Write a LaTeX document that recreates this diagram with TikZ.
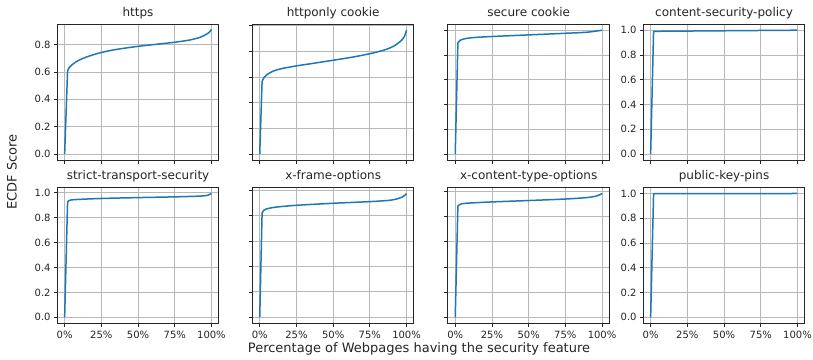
\documentclass[tikz,border=0pt]{standalone}
\usepackage{fontspec}
\setmainfont{DejaVu Sans}
\definecolor{mplblue}{HTML}{1F77B4}
\definecolor{gridgray}{HTML}{B8B8B8}
\definecolor{inkgray}{HTML}{262626}

\tikzset{
  gridline/.style={draw=gridgray, line width=0.85pt},
  tickmark/.style={draw=inkgray, line width=0.8pt},
  axisframe/.style={draw=inkgray, line width=0.85pt},
  ecdf/.style={draw=mplblue, line width=1.5pt, line join=round},
  xticklab/.style={anchor=north, inner sep=0pt, font=\fontsize{10}{12}\selectfont, text=inkgray},
  yticklab/.style={anchor=east, inner sep=0pt, font=\fontsize{10}{12}\selectfont, text=inkgray},
  paneltitle/.style={anchor=base, inner sep=0pt, font=\fontsize{12}{14}\selectfont, text=inkgray},
  axislabel/.style={inner sep=0pt, font=\fontsize{13}{15}\selectfont, text=inkgray},
}

% #1 id, #2 left, #3 top, #4 data maximum, #5 title,
% #6 y ticks (index/label), #7 y labels shown, #8 x labels shown, #9 curve points
\newcommand\drawpanel[9]{%
  \pgfmathsetmacro\pL{#2}%
  \pgfmathsetmacro\pT{#3}%
  \pgfmathsetmacro\pR{#2+161.5}%
  \pgfmathsetmacro\pB{#3+136.2}%
  \pgfmathsetmacro\sy{136.2/(1.1*#4)}%
  \pgfmathsetmacro\oy{\pB-0.05*#4*\sy}%
  \pgfmathsetmacro\sx{161.5/110}%
  \pgfmathsetmacro\ox{\pL+5*\sx}%
  \foreach \k in {0,...,4}{%
    \pgfmathsetmacro\gx{\ox+25*\k*\sx}%
    \pgfmathtruncatemacro\pc{25*\k}%
    \draw[gridline] (\gx,\pT) -- (\gx,\pB);
    \draw[tickmark] (\gx,\pB) -- ++(0,3.5);
    \ifnum#8=1 \node[xticklab] (xl-#1-\k) at (\gx,\pB+7.5) {\pc\%};\fi
  }%
  \foreach \k/\lab in {#6}{%
    \pgfmathsetmacro\gy{\oy-\k*0.2*\sy}%
    \draw[gridline] (\pL,\gy) -- (\pR,\gy);
    \draw[tickmark] (\pL,\gy) -- ++(-3.5,0);
    \ifnum#7=1 \node[yticklab] (yl-#1-\k) at (\pL-6.5,\gy) {\lab};\fi
  }%
  \begin{scope}[shift={(\ox,\oy)}, x=\sx pt, y={\sy pt}]
    \draw[ecdf] (0,0) -- plot[smooth, tension=0.5] coordinates {#9};
  \end{scope}
  \draw[axisframe] (\pL,\pT) rectangle (\pR,\pB);
  \node[paneltitle] (title-#1) at ({\pL+80.75},\pT-7.5) {#5};
}

\begin{document}
\begin{tikzpicture}[x=1pt, y=-1pt]
  \useasboundingbox[fill=white] (0,0) rectangle (813,359);

  % top row
  \drawpanel{a}{57.3}{24}{0.905}{https}
    {0/0.0,1/0.2,2/0.4,3/0.6,4/0.8}{1}{0}
    {(2,0.607) (3,0.63) (5,0.652) (8,0.675) (12,0.697) (17,0.717) (25,0.742) (35,0.764) (50,0.787) (65,0.805) (75,0.817) (85,0.833) (92,0.852) (96,0.872) (98.5,0.89) (100,0.91)}
  \drawpanel{b}{252.4}{24}{0.964}{httponly cookie}
    {0/0.0,1/0.2,2/0.4,3/0.6,4/0.8,5/1.0}{0}{0}
    {(1.6,0.566) (3,0.597) (5,0.618) (9,0.645) (15,0.665) (25,0.686) (37,0.707) (50,0.73) (63,0.754) (75.8,0.783) (86,0.814) (91.6,0.842) (96.2,0.881) (98.5,0.915) (100,0.964)}
  \drawpanel{c}{447.9}{24}{1.0}{secure cookie}
    {0/0.0,1/0.2,2/0.4,3/0.6,4/0.8,5/1.0}{0}{0}
    {(1.8,0.898) (3.5,0.92) (6,0.93) (12,0.94) (25,0.949) (50,0.962) (75,0.975) (90,0.984) (100,1.0)}
  \drawpanel{d}{643.3}{24}{1.0}{content-security-policy}
    {0/0.0,1/0.2,2/0.4,3/0.6,4/0.8,5/1.0}{1}{0}
    {(2,0.991) (100,1.0)}

  % bottom row
  \drawpanel{e}{57.3}{187.3}{0.995}{strict-transport-security}
    {0/0.0,1/0.2,2/0.4,3/0.6,4/0.8,5/1.0}{1}{1}
    {(2,0.928) (3.5,0.94) (7,0.946) (25,0.955) (50,0.962) (75,0.968) (92,0.974) (97.5,0.981) (100,0.995)}
  \drawpanel{f}{252.4}{187.3}{0.975}{x-frame-options}
    {0/0.0,1/0.2,2/0.4,3/0.6,4/0.8,5/1.0}{0}{1}
    {(1.6,0.822) (3,0.845) (6,0.858) (12,0.869) (25,0.882) (50,0.898) (75,0.911) (88,0.921) (94,0.934) (97.5,0.950) (100,0.974)}
  \drawpanel{g}{447.9}{187.3}{0.985}{x-content-type-options}
    {0/0.0,1/0.2,2/0.4,3/0.6,4/0.8,5/1.0}{0}{1}
    {(1.8,0.886) (3.5,0.899) (7,0.907) (25,0.918) (50,0.929) (75,0.941) (90,0.953) (96.5,0.966) (100,0.984)}
  \drawpanel{h}{643.3}{187.3}{1.0}{public-key-pins}
    {0/0.0,1/0.2,2/0.4,3/0.6,4/0.8,5/1.0}{1}{1}
    {(2,0.999) (100,1.0)}

  % shared axis labels
  \node[axislabel, rotate=90] (ylabel) at (12,172) {ECDF Score};
  \node[axislabel, anchor=base] (xlabel) at (419,352.5) {Percentage of Webpages having the security feature};
\end{tikzpicture}
\end{document}
